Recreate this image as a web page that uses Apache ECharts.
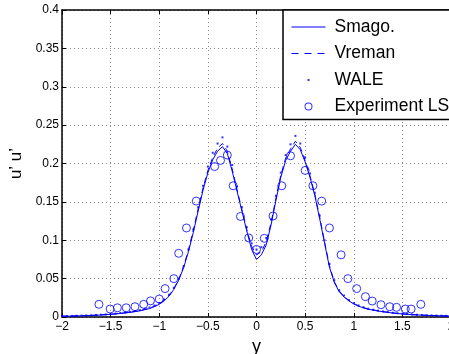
<!DOCTYPE html>
<html>
<head>
<meta charset="utf-8">
<script src="https://cdn.jsdelivr.net/npm/echarts@6/dist/echarts.min.js"></script>
<style>
html, body { margin: 0; padding: 0; background: #fff; }
#container { width: 449px; height: 354px; }
</style>
</head>
<body>
<div id="container"></div>
<script>
// positions across the jet (y) for the LES profiles
var yPos = [-2, -1.95, -1.9, -1.85, -1.8, -1.75, -1.7, -1.65, -1.6, -1.55, -1.5, -1.45, -1.4, -1.35, -1.3, -1.25, -1.2, -1.15, -1.1, -1.05,
    -1, -0.95, -0.9, -0.85, -0.8, -0.75, -0.7, -0.65, -0.6, -0.55, -0.5, -0.45, -0.4, -0.35, -0.3, -0.25, -0.2, -0.15, -0.1, -0.05,
    0, 0.05, 0.1, 0.15, 0.2, 0.25, 0.3, 0.35, 0.4, 0.45, 0.5, 0.55, 0.6, 0.65, 0.7, 0.75, 0.8, 0.85, 0.9, 0.95,
    1, 1.05, 1.1, 1.15, 1.2, 1.25, 1.3, 1.35, 1.4, 1.45, 1.5, 1.55, 1.6, 1.65, 1.7, 1.75, 1.8, 1.85, 1.9, 1.95, 2];

var smago = [0.001, 0.001, 0.0012, 0.0014, 0.0016, 0.0018, 0.002, 0.0023, 0.0026, 0.003, 0.0035, 0.004, 0.0046, 0.0053, 0.006, 0.007, 0.008, 0.0095, 0.011, 0.0135,
    0.0165, 0.021, 0.027, 0.036, 0.048, 0.064, 0.085, 0.11, 0.138, 0.165, 0.188, 0.205, 0.216, 0.222, 0.213, 0.19, 0.164, 0.138, 0.112, 0.088,
    0.075, 0.081, 0.094, 0.12, 0.152, 0.182, 0.204, 0.216, 0.225, 0.218, 0.202, 0.182, 0.158, 0.128, 0.096, 0.065, 0.045, 0.033, 0.026, 0.021,
    0.017, 0.014, 0.012, 0.01, 0.009, 0.0078, 0.0068, 0.006, 0.0052, 0.0045, 0.004, 0.0035, 0.003, 0.0027, 0.0024, 0.0021, 0.0019, 0.0017, 0.0015, 0.0013, 0.0012];

var vreman = [0.0011, 0.0012, 0.0013, 0.0015, 0.0017, 0.0019, 0.0021, 0.0024, 0.0027, 0.0031, 0.0036, 0.0042, 0.0048, 0.0055, 0.0063, 0.0072, 0.0083, 0.0098, 0.0115, 0.014,
    0.0172, 0.0218, 0.028, 0.037, 0.049, 0.066, 0.087, 0.113, 0.141, 0.168, 0.191, 0.208, 0.22, 0.226, 0.216, 0.193, 0.166, 0.14, 0.114, 0.092,
    0.081, 0.085, 0.098, 0.123, 0.155, 0.185, 0.207, 0.219, 0.229, 0.221, 0.204, 0.184, 0.16, 0.13, 0.098, 0.067, 0.046, 0.034, 0.027, 0.0215,
    0.0175, 0.0145, 0.0122, 0.0104, 0.0092, 0.008, 0.007, 0.0062, 0.0054, 0.0047, 0.0041, 0.0036, 0.0031, 0.0028, 0.0025, 0.0022, 0.002, 0.0018, 0.0016, 0.0014, 0.0013];

var wale = [0.0012, 0.0013, 0.0014, 0.0016, 0.0018, 0.002, 0.0023, 0.0026, 0.003, 0.0034, 0.0039, 0.0045, 0.0052, 0.006, 0.0068, 0.0078, 0.009, 0.0106, 0.0125, 0.015,
    0.0183, 0.023, 0.029, 0.038, 0.05, 0.066, 0.088, 0.114, 0.143, 0.171, 0.196, 0.214, 0.226, 0.234, 0.222, 0.198, 0.17, 0.143, 0.117, 0.096,
    0.088, 0.091, 0.103, 0.127, 0.158, 0.188, 0.211, 0.225, 0.236, 0.226, 0.208, 0.187, 0.162, 0.132, 0.1, 0.069, 0.048, 0.035, 0.028, 0.022,
    0.018, 0.015, 0.0127, 0.0108, 0.0095, 0.0083, 0.0073, 0.0064, 0.0056, 0.0049, 0.0043, 0.0038, 0.0033, 0.0029, 0.0026, 0.0023, 0.0021, 0.0019, 0.0017, 0.0015, 0.0014];

// experiment (circles)
var expY = [-1.62, -1.505, -1.43, -1.34, -1.25, -1.16, -1.09, -1.0, -0.94, -0.85, -0.8, -0.72, -0.62, -0.43, -0.37, -0.3, -0.24, -0.165, -0.08, 0.0,
    0.08, 0.17, 0.26, 0.35, 0.5, 0.58, 0.67, 0.75, 0.87, 0.94, 1.03, 1.12, 1.19, 1.28, 1.37, 1.44, 1.53, 1.59, 1.69];
var expVal = [0.0165, 0.0104, 0.012, 0.012, 0.0134, 0.0165, 0.021, 0.0234, 0.037, 0.05, 0.083, 0.116, 0.151, 0.196, 0.204, 0.211, 0.171, 0.131, 0.103, 0.088,
    0.1025, 0.1316, 0.171, 0.21, 0.191, 0.171, 0.151, 0.116, 0.081, 0.05, 0.037, 0.0265, 0.0208, 0.016, 0.0134, 0.0126, 0.0104, 0.0104, 0.0165];

var seriesNames = ['Smago.', 'Vreman', 'WALE', 'Experiment LS'];
var font = "'Liberation Sans', Arial, Helvetica, sans-serif";
var blue = '#0000ff';

function pairs(xs, vs) {
    return xs.map(function (x, i) { return [x, vs[i]]; });
}
function minusSign(v) {
    return String(v).replace('-', '\u2212');
}

var dom = document.getElementById('container');
var myChart = echarts.init(dom, null, {renderer: 'canvas'});

var option = {
    animation: false,
    backgroundColor: '#fff',
    textStyle: {fontFamily: font},
    grid: {
        left: 62,
        top: 10,
        width: 389,
        height: 307,
        containLabel: false,
        outerBoundsMode: 'none'
    },
    legend: {
        orient: 'vertical',
        left: 283,
        top: 10,
        padding: [8, 30, 4, 8],
        itemWidth: 34,
        itemHeight: 14,
        itemGap: 8.5,
        borderColor: '#000',
        borderWidth: 1.5,
        backgroundColor: '#fff',
        selectedMode: false,
        textStyle: {fontSize: 17.5, color: '#000', fontFamily: font, padding: [0, 0, 0, 4]},
        data: [
            {name: seriesNames[0], itemStyle: {opacity: 0}, lineStyle: {color: blue, width: 1, type: 'solid', opacity: 1}},
            {name: seriesNames[1], itemStyle: {opacity: 0}, lineStyle: {color: blue, width: 1, type: [7, 6], opacity: 1}},
            {name: seriesNames[2], icon: 'path://M0,0L0,0M34,14L34,14M16,6H18V8H16Z',
                itemStyle: {color: blue, borderWidth: 0}},
            {name: seriesNames[3], icon: 'path://M0,0L0,0M34,14L34,14M13,7A4,4 0 1,0 21,7A4,4 0 1,0 13,7ZM14,7A3,3 0 1,1 20,7A3,3 0 1,1 14,7Z',
                itemStyle: {color: blue, borderWidth: 0}}
        ]
    },
    xAxis: [
        {
            type: 'value',
            min: -2,
            max: 2,
            interval: 0.5,
            name: 'y',
            nameLocation: 'middle',
            nameGap: 17,
            nameTextStyle: {fontSize: 18, color: '#000', fontFamily: font},
            axisLine: {onZero: false, lineStyle: {color: '#000', width: 1.5}},
            axisTick: {inside: true, length: 4, lineStyle: {color: '#000'}},
            axisLabel: {color: '#000', fontSize: 12, margin: 4, fontFamily: font, formatter: minusSign},
            splitLine: {show: true, lineStyle: {color: '#8c8c8c', type: [1, 3], width: 1}}
        },
        {
            type: 'value',
            position: 'top',
            min: -2,
            max: 2,
            interval: 0.5,
            axisLine: {onZero: false, lineStyle: {color: '#000', width: 1.5}},
            axisTick: {inside: true, length: 4, lineStyle: {color: '#000'}},
            axisLabel: {show: false},
            splitLine: {show: false}
        }
    ],
    yAxis: {
        type: 'value',
        min: 0,
        max: 0.4,
        interval: 0.05,
        name: 'u\u2019 u\u2019',
        nameLocation: 'middle',
        nameGap: 32,
        nameTextStyle: {fontSize: 17, color: '#000', fontFamily: font},
        axisLine: {show: true, onZero: false, lineStyle: {color: '#000', width: 1.5}},
        axisTick: {show: true, inside: true, length: 4, lineStyle: {color: '#000'}},
        axisLabel: {color: '#000', fontSize: 12, margin: 3, fontFamily: font},
        splitLine: {show: true, lineStyle: {color: '#8c8c8c', type: [1, 3], width: 1}}
    },
    series: [
        {
            name: seriesNames[0],
            type: 'line',
            symbol: 'none',
            data: pairs(yPos, smago),
            itemStyle: {color: blue},
            lineStyle: {color: blue, width: 1}
        },
        {
            name: seriesNames[1],
            type: 'line',
            symbol: 'none',
            data: pairs(yPos, vreman),
            itemStyle: {color: blue},
            lineStyle: {color: blue, width: 1, type: [6, 4]}
        },
        {
            name: seriesNames[2],
            type: 'scatter',
            symbol: 'rect',
            symbolSize: 2,
            data: pairs(yPos, wale),
            itemStyle: {color: blue}
        },
        {
            name: seriesNames[3],
            type: 'scatter',
            symbol: 'circle',
            symbolSize: 8,
            z: 5,
            data: pairs(expY, expVal),
            itemStyle: {color: 'transparent', borderColor: blue, borderWidth: 1}
        }
    ]
};

if (option && typeof option === 'object') {
    myChart.setOption(option, true);
}
</script>
</body>
</html>
